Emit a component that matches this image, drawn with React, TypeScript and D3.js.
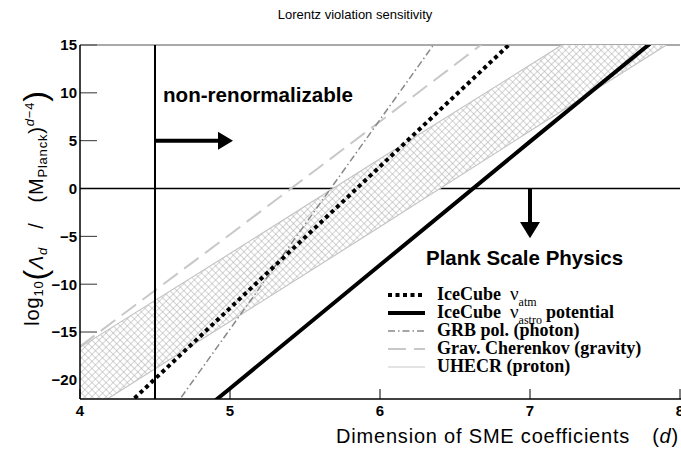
import React, { useEffect, useRef } from 'react';
import * as d3 from 'd3';

const W = 681;
const H = 451;

// dimension d of the SME coefficients
const dims = [4, 5, 6, 7, 8];
// log10(Lambda_d / M_Planck^(d-4))
const iceCubeAtm = [-27.3, -12.5, 2.3, 17.1, 31.9];
const iceCubeAstro = [-33.7, -20.9, -8.0, 4.9, 17.7];
const grbPol = [-36.6, -14.7, 7.2, 29.1, 51.0];
const gravCherenkov = [-16.5, -4.8, 7.0, 18.9, 30.7];
const uhecrUpper = [-16.6, -6.8, 3.1, 12.9, 22.8];
const uhecrLower = [-23.8, -13.9, -4.0, 6.0, 15.9];

const xTicks = [4, 5, 6, 7, 8];
const yTicks = [15, 10, 5, 0, -5, -10, -15, -20];

const legendLabels = [
  'IceCube',
  'IceCube',
  'GRB pol. (photon)',
  'Grav. Cherenkov (gravity)',
  'UHECR (proton)',
];

const SANS = '"Liberation Sans", Arial, Helvetica, sans-serif';
const SERIF = '"Liberation Serif", "Times New Roman", serif';

export default function App() {
  const ref = useRef<SVGSVGElement>(null);

  useEffect(() => {
    if (!ref.current) return;
    const root = d3.select(ref.current);
    root.selectAll('*').remove();

    const x = d3.scaleLinear().domain([4, 8]).range([80, 680]);
    const y = d3.scaleLinear().domain([-22, 15]).range([399, 45]);

    const defs = root.append('defs');
    defs
      .append('clipPath')
      .attr('id', 'plot-clip')
      .append('rect')
      .attr('x', 80)
      .attr('y', 45)
      .attr('width', 600)
      .attr('height', 354);
    const pat = defs
      .append('pattern')
      .attr('id', 'hatch')
      .attr('patternUnits', 'userSpaceOnUse')
      .attr('width', 5)
      .attr('height', 5)
      .attr('patternTransform', 'rotate(45)');
    pat.append('rect').attr('width', 5).attr('height', 5).attr('fill', '#fff');
    pat
      .append('path')
      .attr('d', 'M0,0 L5,0 M0,0 L0,5')
      .attr('stroke', '#a8a8a8')
      .attr('stroke-width', 1);

    // title
    root
      .append('text')
      .attr('x', 355)
      .attr('y', 19)
      .attr('text-anchor', 'middle')
      .style('font-family', SANS)
      .style('font-size', '13px')
      .text('Lorentz violation sensitivity');

    // y ticks (inward) and the zero line
    const yAxis = root.append('g');
    yTicks.forEach((t) => {
      yAxis
        .append('line')
        .attr('x1', 80)
        .attr('x2', t === 0 ? 680 : 97)
        .attr('y1', y(t))
        .attr('y2', y(t))
        .attr('stroke', t === 0 ? '#000' : '#333')
        .attr('stroke-width', t === 0 ? 1.5 : 1);
      yAxis
        .append('text')
        .attr('x', 77)
        .attr('y', y(t))
        .attr('dy', '0.36em')
        .attr('text-anchor', 'end')
        .style('font-family', SANS)
        .style('font-weight', 'bold')
        .style('font-size', '15px')
        .text(t < 0 ? `\u2212${-t}` : `${t}`);
    });

    // top frame
    root
      .append('line')
      .attr('x1', 80)
      .attr('x2', 680)
      .attr('y1', 45)
      .attr('y2', 45)
      .attr('stroke', '#555')
      .attr('stroke-width', 1);

    const plot = root.append('g').attr('clip-path', 'url(#plot-clip)');

    // UHECR band
    const band = dims.map((d, i) => ({ d, lo: uhecrLower[i], hi: uhecrUpper[i] }));
    plot
      .append('path')
      .datum(band)
      .attr('fill', 'url(#hatch)')
      .attr(
        'd',
        d3
          .area<{ d: number; lo: number; hi: number }>()
          .x((p) => x(p.d))
          .y0((p) => y(p.lo))
          .y1((p) => y(p.hi))
      );

    const line = d3
      .line<number>()
      .x((_, i) => x(dims[i]))
      .y((v) => y(v));

    [uhecrUpper, uhecrLower].forEach((s) => {
      plot
        .append('path')
        .datum(s)
        .attr('fill', 'none')
        .attr('stroke', '#c4c4c4')
        .attr('stroke-width', 1.2)
        .attr('d', line);
    });

    const series = [
      { v: gravCherenkov, stroke: '#c8c8c8', w: 2, dash: '18,8' },
      { v: grbPol, stroke: '#888', w: 1.5, dash: '7,3,1.5,3' },
      { v: iceCubeAtm, stroke: '#000', w: 4, dash: '4,3.5' },
      { v: iceCubeAstro, stroke: '#000', w: 4, dash: null },
    ];
    series.forEach((s) => {
      plot
        .append('path')
        .datum(s.v)
        .attr('fill', 'none')
        .attr('stroke', s.stroke)
        .attr('stroke-width', s.w)
        .attr('stroke-dasharray', s.dash)
        .attr('d', line);
    });

    // left and bottom axis lines, x ticks
    root
      .append('line')
      .attr('x1', 80)
      .attr('x2', 80)
      .attr('y1', 45)
      .attr('y2', 399)
      .attr('stroke', '#000')
      .attr('stroke-width', 1.5);
    root
      .append('line')
      .attr('x1', 80)
      .attr('x2', 681)
      .attr('y1', 399)
      .attr('y2', 399)
      .attr('stroke', '#000')
      .attr('stroke-width', 1.5);
    xTicks.forEach((t) => {
      root
        .append('line')
        .attr('x1', x(t))
        .attr('x2', x(t))
        .attr('y1', 399)
        .attr('y2', 389)
        .attr('stroke', '#000')
        .attr('stroke-width', 1);
      root
        .append('text')
        .attr('x', x(t))
        .attr('y', 416)
        .attr('text-anchor', 'middle')
        .style('font-family', SANS)
        .style('font-weight', 'bold')
        .style('font-size', '15px')
        .text(`${t}`);
    });

    // d = 4.5 boundary
    root
      .append('line')
      .attr('x1', x(4.5))
      .attr('x2', x(4.5))
      .attr('y1', 45)
      .attr('y2', 399)
      .attr('stroke', '#000')
      .attr('stroke-width', 2);

    // right arrow: non-renormalizable
    const ay = y(5);
    root
      .append('line')
      .attr('x1', x(4.5))
      .attr('x2', x(4.93))
      .attr('y1', ay)
      .attr('y2', ay)
      .attr('stroke', '#000')
      .attr('stroke-width', 4);
    root
      .append('path')
      .attr('d', `M${x(4.92)},${ay - 9} L${x(5.02)},${ay} L${x(4.92)},${ay + 9} Z`)
      .attr('fill', '#000');
    root
      .append('text')
      .attr('x', 163)
      .attr('y', 102)
      .style('font-family', SANS)
      .style('font-weight', 'bold')
      .style('font-size', '20.6px')
      .text('non-renormalizable');

    // down arrow: Planck scale physics
    const ax = x(7);
    root
      .append('line')
      .attr('x1', ax)
      .attr('x2', ax)
      .attr('y1', y(0))
      .attr('y2', y(-3.6))
      .attr('stroke', '#000')
      .attr('stroke-width', 4);
    root
      .append('path')
      .attr('d', `M${ax - 10},${y(-3.5)} L${ax},${y(-5.2)} L${ax + 10},${y(-3.5)} Z`)
      .attr('fill', '#000');
    root
      .append('text')
      .attr('x', 426)
      .attr('y', 265)
      .style('font-family', SANS)
      .style('font-weight', 'bold')
      .style('font-size', '20.5px')
      .text('Plank Scale Physics');

    // legend
    const leg = root.append('g').attr('transform', 'translate(388,300)');
    const legStyles = [
      { stroke: '#000', w: 4, dash: '4,3.5' },
      { stroke: '#000', w: 4, dash: null },
      { stroke: '#888', w: 1.5, dash: '7,3,1.5,3' },
      { stroke: '#c8c8c8', w: 2, dash: '18,8' },
      { stroke: '#c8c8c8', w: 1.2, dash: null },
    ];
    legendLabels.forEach((lab, i) => {
      const ly = i * 18;
      leg
        .append('line')
        .attr('x1', 0)
        .attr('x2', 37)
        .attr('y1', ly - 5)
        .attr('y2', ly - 5)
        .attr('stroke', legStyles[i].stroke)
        .attr('stroke-width', legStyles[i].w)
        .attr('stroke-dasharray', legStyles[i].dash);
      const t = leg
        .append('text')
        .attr('x', 49)
        .attr('y', ly)
        .style('font-family', SERIF)
        .style('font-weight', 'bold')
        .style('font-size', '18px');
      t.append('tspan').text(lab);
      if (i === 0 || i === 1) {
        t.append('tspan')
          .attr('dx', 9)
          .style('font-weight', 'normal')
          .style('font-size', '19px')
          .text('\u03bd');
        t.append('tspan')
          .attr('dy', 6)
          .style('font-size', '12px')
          .style('font-weight', 'normal')
          .text(i === 0 ? 'atm' : 'astro');
        if (i === 1) t.append('tspan').attr('dy', -6).attr('dx', 4).text('potential');
      }
    });

    // x label
    const xl = root
      .append('text')
      .attr('x', 679)
      .attr('y', 443)
      .attr('text-anchor', 'end')
      .style('font-family', SANS)
      .style('font-size', '20px')
      .style('letter-spacing', '0.8px');
    xl.append('tspan').text('Dimension of SME coefficients');
    xl.append('tspan').attr('dx', 22).text('(');
    xl.append('tspan').style('font-style', 'italic').text('d');
    xl.append('tspan').text(')');

    // y label
    const yl = root
      .append('text')
      .attr('transform', 'translate(39,208) rotate(-90)')
      .attr('text-anchor', 'middle')
      .style('font-family', SANS)
      .style('font-size', '20px')
      .style('letter-spacing', '0.8px');
    yl.append('tspan').text('log');
    yl.append('tspan').attr('dy', 4).style('font-size', '13px').text('10');
    yl.append('tspan').attr('dy', 3).style('font-size', '32px').style('font-weight', '300').text('(');
    yl.append('tspan').attr('dy', -3).style('font-style', 'italic').text('\u039b');
    yl.append('tspan').attr('dy', 4).style('font-size', '13px').style('font-style', 'italic').text('d');
    yl.append('tspan').attr('dy', -4).attr('dx', 18).text('/');
    yl.append('tspan').attr('dx', 20).text('(M');
    yl.append('tspan').attr('dy', 4).style('font-size', '13px').text('Planck');
    yl.append('tspan').attr('dy', -4).text(')');
    yl.append('tspan').attr('dy', -9).style('font-size', '13px').style('font-style', 'italic').text('d');
    yl.append('tspan').style('font-size', '13px').text('\u22124');
    yl.append('tspan').attr('dy', 12).style('font-size', '32px').style('font-weight', '300').text(')');
  }, []);

  return (
    <svg
      ref={ref}
      width={W}
      height={H}
      style={{ position: 'absolute', left: 0, top: 0, background: '#fff' }}
    />
  );
}
